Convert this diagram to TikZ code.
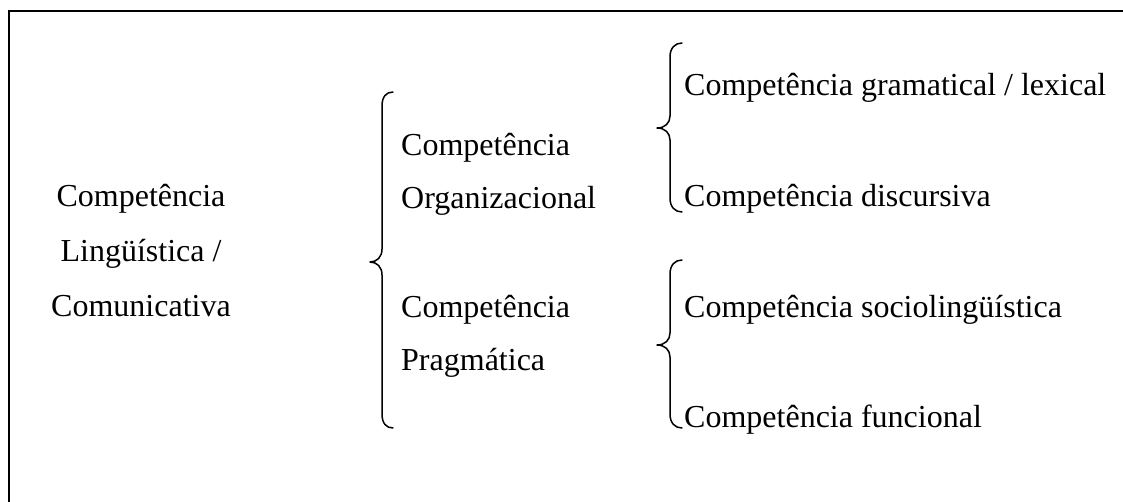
\documentclass[tikz,border=0pt]{standalone}
\usepackage{fontspec}
\setmainfont{Liberation Serif}
\begin{document}
\begin{tikzpicture}[x=1pt,y=-1pt,
  lbl/.style={inner sep=0pt, font=\fontsize{32}{38}\selectfont},
  lft/.style={lbl, anchor=base west},
  ctr/.style={lbl, anchor=base},
  frame/.style={line width=2.5pt},
  brace/.style={line width=1.5pt, line cap=round, line join=round}]
\useasboundingbox (0,0) rectangle (1123,501);
\fill[white] (0,0) rectangle (1123,501);
% frame
\draw[frame] (9,510) -- (9,11) -- (1130,11);
% left column
\node[ctr] (l1) at (141,206) {Competência};
\node[ctr] (l2) at (141,261) {Lingüística /};
\node[ctr] (l3) at (141,316) {Comunicativa};
% middle column
\node[lft] (m1) at (401,155) {Competência};
\node[lft] (m2) at (401,208) {Organizacional};
\node[lft] (m3) at (401,317) {Competência};
\node[lft] (m4) at (401,370) {Pragmática};
% right column
\node[lft] (r1) at (684,95) {Competência gramatical / lexical};
\node[lft] (r2) at (684,206) {Competência discursiva};
\node[lft] (r3) at (684,317) {Competência sociolingüística};
\node[lft] (r4) at (684,427) {Competência funcional};
% big brace
\draw[brace] (393,92) .. controls (386,92) and (382,97) .. (382,106)
  -- (382,249) .. controls (382,257) and (377,262) .. (370,262)
  .. controls (377,262) and (382,267) .. (382,275)
  -- (382,414) .. controls (382,423) and (386,428) .. (393,428);
% upper right brace
\draw[brace] (682,43) .. controls (675,43) and (670,48) .. (670,57)
  -- (670,116) .. controls (670,123) and (665,128) .. (657,128)
  .. controls (665,128) and (670,133) .. (670,140)
  -- (670,198) .. controls (670,207) and (675,212) .. (682,212);
% lower right brace
\draw[brace] (682,260) .. controls (675,260) and (670,265) .. (670,274)
  -- (670,333) .. controls (670,340) and (665,345) .. (657,345)
  .. controls (665,345) and (670,350) .. (670,357)
  -- (670,414) .. controls (670,423) and (675,428) .. (682,428);
\end{tikzpicture}
\end{document}
